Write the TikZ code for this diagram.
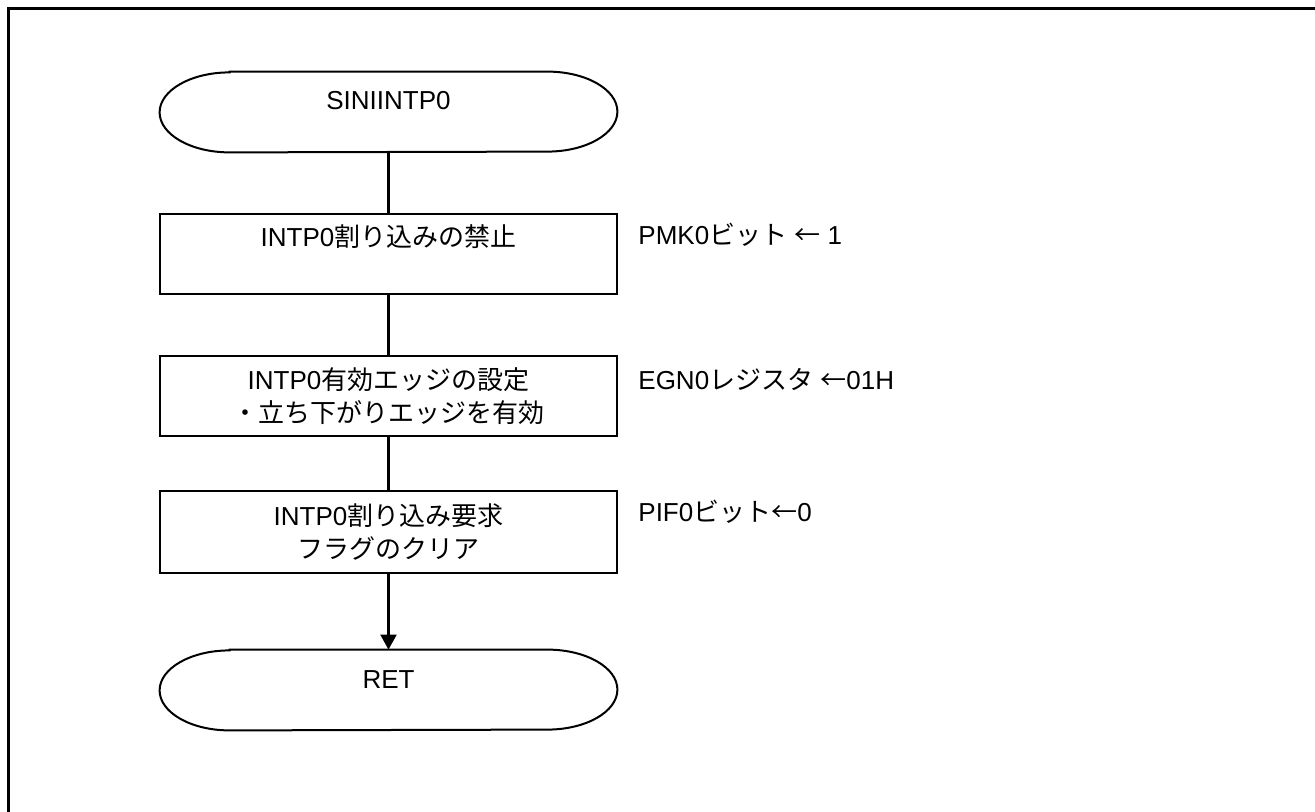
\documentclass[tikz,border=0pt]{standalone}
\usepackage{fontspec}
\setmainfont{Liberation Sans}
\newfontfamily\jpfont{Noto Sans CJK JP}
\usetikzlibrary{arrows.meta}
\tikzset{
	term/.style={minimum width=228.5pt, minimum height=40pt, inner sep=0pt, text height=9pt, text depth=11pt},
	termline/.style={line width=1pt},
	procbox/.style={draw, line width=1.1pt, minimum width=228.5pt, minimum height=40pt, inner sep=0pt, align=center},
	note/.style={anchor=west, inner sep=0pt},
	flow/.style={line width=1.1pt},
	frameline/.style={line width=1.5pt}
}
\newcommand{\termoutline}[1]{\draw[termline] ([xshift=35pt]#1.north west) -- ([xshift=-35pt]#1.north east) arc[start angle=90, end angle=-90, x radius=35pt, y radius=20pt] -- ([xshift=35pt]#1.south west) arc[start angle=270, end angle=90, x radius=35pt, y radius=20pt] -- cycle;}

\begin{document}
\begin{tikzpicture}[x=0.5pt, y=0.5pt, every node/.style={font=\fontsize{13pt}{16.5pt}\selectfont}]
		%%%%% START %%%%%
		\useasboundingbox (0,0) rectangle (1315,-812);
		
		\draw[frameline] (8,-812) -- (8,-8.5) -- (1315,-8.5);
		
		\node[term] (start) at (388.5,-112) {SINIINTP0};
		\termoutline{start}
		
		\node[procbox] (mask) at (388.5,-254) {INTP0{\jpfont 割り込みの禁止}\\[2pt]\mbox{}};
		\node[note] (masknote) at (638,-235) {PMK0{\jpfont ビット} {\jpfont ←} 1};
		
		\node[procbox] (edge) at (388.5,-396) {INTP0{\jpfont 有効エッジの設定}\\{\jpfont ・立ち下がりエッジを有効}};
		\node[note] (edgenote) at (638,-379) {EGN0{\jpfont レジスタ} {\jpfont ←}01H};
		
		\node[procbox, minimum height=41pt] (clear) at (388.5,-532) {INTP0{\jpfont 割り込み要求}\\{\jpfont フラグのクリア}};
		\node[note] (clearnote) at (638,-512) {PIF0{\jpfont ビット←}0};
		
		\node[term] (ret) at (388.5,-690) {RET};
		\termoutline{ret}
		
		\draw[flow] (start) -- (mask);
		\draw[flow] (mask) -- (edge);
		\draw[flow] (edge) -- (clear);
		\draw[flow, -{Triangle[length=7.5pt, width=8pt]}] (clear) -- (ret);
		
		%%%%% END %%%%%
\end{tikzpicture}
\end{document}
